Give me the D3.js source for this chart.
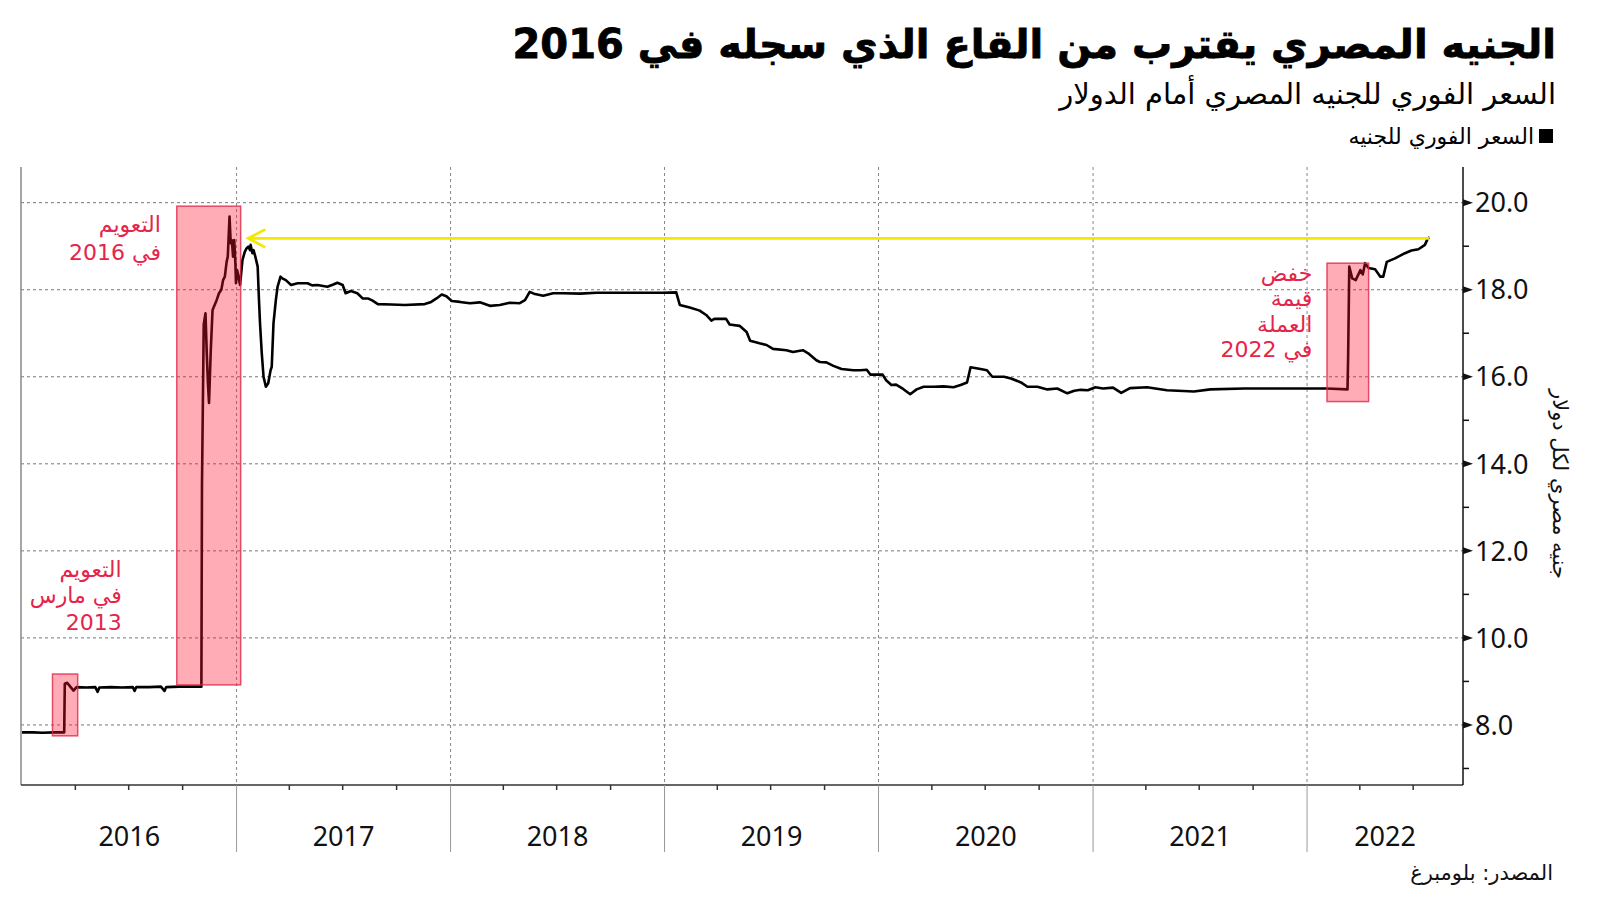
<!DOCTYPE html>
<html>
<head>
<meta charset="utf-8">
<script src="https://cdn.jsdelivr.net/npm/d3@7"></script>
<style>
  body { margin: 0; background: #fff; }
  svg { display: block; }
  .ar { font-family: "DejaVu Sans", sans-serif; direction: rtl; }
  .num { font-family: "Noto Sans", sans-serif; }
</style>
</head>
<body>
<div id="chart"></div>
<script>
// السعر الفوري للجنيه امام الدولار (قراءة من الصورة)
const dates = [
  "2016-01-01","2016-01-20","2016-02-05","2016-02-25","2016-03-13","2016-03-14","2016-03-18","2016-03-24",
  "2016-03-29","2016-04-03","2016-04-20","2016-05-05","2016-05-09","2016-05-12","2016-06-01","2016-06-20",
  "2016-07-08","2016-07-11","2016-07-14","2016-08-05","2016-08-25","2016-08-31","2016-09-03","2016-09-25",
  "2016-10-15","2016-11-02","2016-11-03","2016-11-06","2016-11-09","2016-11-11","2016-11-13","2016-11-15",
  "2016-11-18","2016-11-21","2016-11-23","2016-11-28","2016-12-02","2016-12-06","2016-12-09","2016-12-12",
  "2016-12-15","2016-12-17","2016-12-20","2016-12-22","2016-12-24","2016-12-26","2016-12-28","2016-12-30",
  "2016-12-31","2017-01-02","2017-01-07","2017-01-11","2017-01-15","2017-01-18","2017-01-21","2017-01-24",
  "2017-01-25","2017-01-28","2017-01-30","2017-02-02","2017-02-06","2017-02-08","2017-02-10","2017-02-13",
  "2017-02-16","2017-02-20","2017-02-24","2017-02-28","2017-03-02","2017-03-05","2017-03-09","2017-03-12",
  "2017-03-17","2017-03-20","2017-03-26","2017-04-04","2017-04-15","2017-05-02","2017-05-10","2017-05-19",
  "2017-06-05","2017-06-15","2017-06-22","2017-07-01","2017-07-06","2017-07-15","2017-07-26","2017-08-04",
  "2017-08-13","2017-08-21","2017-08-30","2017-09-22","2017-10-15","2017-11-18","2017-11-29","2017-12-08",
  "2017-12-17","2017-12-25","2018-01-03","2018-01-17","2018-02-03","2018-02-20","2018-03-09","2018-03-26",
  "2018-04-12","2018-04-29","2018-05-08","2018-05-16","2018-05-25","2018-06-08","2018-06-25","2018-07-12",
  "2018-08-10","2018-09-07","2018-10-06","2018-11-03","2018-12-01","2018-12-30","2019-01-21","2019-01-27",
  "2019-02-13","2019-03-02","2019-03-13","2019-03-22","2019-03-27","2019-04-16","2019-04-22","2019-05-09",
  "2019-05-21","2019-05-27","2019-06-12","2019-06-24","2019-07-05","2019-07-28","2019-08-08","2019-08-25",
  "2019-09-03","2019-09-17","2019-09-23","2019-10-04","2019-10-16","2019-10-30","2019-11-19","2019-12-01",
  "2019-12-12","2019-12-18","2020-01-08","2020-01-14","2020-01-23","2020-01-31","2020-02-12","2020-02-24",
  "2020-03-06","2020-03-18","2020-04-04","2020-04-21","2020-05-08","2020-05-20","2020-05-31","2020-06-06",
  "2020-06-23","2020-07-04","2020-07-13","2020-08-02","2020-08-14","2020-08-31","2020-09-11","2020-09-28",
  "2020-10-15","2020-11-01","2020-11-18","2020-11-30","2020-12-11","2020-12-23","2021-01-05","2021-01-18",
  "2021-02-04","2021-02-18","2021-03-05","2021-04-03","2021-05-07","2021-06-22","2021-07-20","2021-09-16",
  "2021-11-12","2022-01-05","2022-02-03","2022-03-11","2022-03-12","2022-03-14","2022-03-19","2022-03-25",
  "2022-04-02","2022-04-06","2022-04-10","2022-04-16","2022-04-27","2022-05-06","2022-05-11","2022-05-17",
  "2022-05-31","2022-06-17","2022-06-28","2022-07-10","2022-07-21","2022-07-26","2022-07-29"
];
const rates = [
  7.83,7.83,7.82,7.83,7.83,8.95,8.97,8.87,
  8.79,8.87,8.86,8.87,8.76,8.86,8.87,8.86,
  8.87,8.78,8.87,8.87,8.88,8.78,8.87,8.88,
  8.88,8.88,13.5,17.2,17.46,16.6,15.9,15.4,
  16.6,17.53,17.6,17.76,17.92,18.0,18.22,18.3,
  18.64,18.76,19.68,19.07,19.14,18.76,19.14,18.6,
  18.15,18.45,18.11,18.68,18.87,18.95,18.99,18.91,
  19.03,18.84,18.91,18.76,18.53,17.84,17.23,16.54,
  16.0,15.77,15.85,16.15,16.23,17.23,17.76,18.07,
  18.3,18.26,18.22,18.11,18.15,18.15,18.1,18.11,
  18.07,18.12,18.16,18.11,17.92,17.97,17.92,17.8,
  17.8,17.75,17.67,17.66,17.65,17.67,17.72,17.8,
  17.89,17.85,17.74,17.72,17.69,17.71,17.63,17.65,
  17.7,17.69,17.76,17.95,17.9,17.86,17.92,17.92,
  17.91,17.93,17.93,17.93,17.93,17.93,17.94,17.65,
  17.59,17.52,17.42,17.29,17.33,17.33,17.2,17.17,
  17.03,16.83,16.77,16.73,16.64,16.61,16.57,16.61,
  16.54,16.38,16.34,16.33,16.25,16.18,16.15,16.15,
  16.16,16.05,16.05,15.92,15.81,15.82,15.72,15.6,
  15.71,15.77,15.77,15.78,15.76,15.81,15.87,16.22,
  16.18,16.15,16.0,16.0,15.96,15.87,15.77,15.77,
  15.71,15.73,15.62,15.68,15.7,15.69,15.76,15.73,
  15.75,15.63,15.74,15.76,15.69,15.66,15.71,15.73,
  15.73,15.73,15.73,15.71,16.4,18.53,18.26,18.22,
  18.45,18.35,18.61,18.5,18.47,18.3,18.3,18.64,
  18.72,18.84,18.9,18.93,19.03,19.18,19.2
];

const yTicks = [8, 10, 12, 14, 16, 18, 20];
const yMinor = [7, 9, 11, 13, 15, 17, 19];
const years = ["2016", "2017", "2018", "2019", "2020", "2021", "2022"];

// مستطيلات التعويم / خفض القيمة
const boxStart = ["2016-02-22", "2016-09-21", "2022-02-04"];
const boxEnd   = ["2016-04-05", "2017-01-08", "2022-04-16"];
const boxLow   = [7.75, 8.92, 15.43];
const boxHigh  = [9.17, 19.92, 18.61];

const noteLines  = [["التعويم", "في 2016"], ["التعويم", "في مارس", "2013"], ["خفض", "قيمة", "العملة", "في 2022"]];
const noteDates  = ["2016-08-25", "2016-06-19", "2022-01-10"];
const noteValues = [19.51, 11.58, 18.38];

const arrowStart = "2017-01-21", arrowEnd = "2022-07-29", arrowValue = 19.18;

const W = 1600, H = 901;
const plot = {left: 21, right: 1463, top: 167, bottom: 785};
const noteGap = [28.5, 26.5, 25.5];
const parse = d3.timeParse("%Y-%m-%d");

const svg = d3.select("#chart").append("svg")
  .attr("width", W).attr("height", H);

const x = d3.scaleTime()
  .domain([parse("2016-01-01"), parse("2022-09-24")])
  .range([22, plot.right]);
const y = d3.scaleLinear()
  .domain([6.62, 20.82])
  .range([plot.bottom, plot.top]);

// العنوان
svg.append("text").attr("class", "ar")
  .attr("x", 1556).attr("y", 58)
  .attr("text-anchor", "start")
  .style("font-size", "40px").style("font-weight", "bold")
  .attr("stroke", "#000").attr("stroke-width", 0.8)
  .text("الجنيه المصري يقترب من القاع الذي سجله في 2016");

svg.append("text").attr("class", "ar")
  .attr("x", 1556).attr("y", 104)
  .attr("text-anchor", "start")
  .style("font-size", "29px")
  .text("السعر الفوري للجنيه المصري أمام الدولار");

svg.append("rect")
  .attr("x", 1539).attr("y", 129).attr("width", 14).attr("height", 14)
  .attr("fill", "#000");
svg.append("text").attr("class", "ar")
  .attr("x", 1534).attr("y", 144)
  .attr("text-anchor", "start")
  .style("font-size", "22px")
  .text("السعر الفوري للجنيه");

// خطوط الشبكة
svg.append("g").selectAll("line").data(yTicks).join("line")
  .attr("x1", plot.left).attr("x2", plot.right)
  .attr("y1", d => y(d)).attr("y2", d => y(d))
  .attr("stroke", "#777").attr("stroke-width", 1)
  .attr("stroke-dasharray", "3,3");

const yearStarts = years.slice(1).map(d => parse(d + "-01-01"));
svg.append("g").selectAll("line").data(yearStarts).join("line")
  .attr("x1", d => x(d)).attr("x2", d => x(d))
  .attr("y1", plot.top).attr("y2", plot.bottom)
  .attr("stroke", "#888").attr("stroke-width", 1)
  .attr("stroke-dasharray", "3,3");

// المحور الايسر
svg.append("line")
  .attr("x1", plot.left).attr("x2", plot.left)
  .attr("y1", plot.top).attr("y2", plot.bottom)
  .attr("stroke", "#888").attr("stroke-width", 1.5);

// المحور السفلي
const xAxis = svg.append("g").attr("transform", `translate(0,${plot.bottom})`);
xAxis.append("line")
  .attr("x1", plot.left).attr("x2", plot.right)
  .attr("stroke", "#333").attr("stroke-width", 1.5);
const quarters = d3.timeMonth.every(3).range(parse("2016-04-01"), parse("2022-09-01"))
  .filter(d => d.getMonth() !== 0);
xAxis.selectAll(".q").data(quarters).join("line")
  .attr("x1", d => x(d)).attr("x2", d => x(d))
  .attr("y1", 0).attr("y2", 5)
  .attr("stroke", "#333").attr("stroke-width", 1.5);
xAxis.selectAll(".yr").data(yearStarts).join("line")
  .attr("x1", d => x(d)).attr("x2", d => x(d))
  .attr("y1", 0).attr("y2", 67)
  .attr("stroke", "#999").attr("stroke-width", 1);

const yearMid = years.map(d => {
  const a = Math.max(x(parse(d + "-01-01")), plot.left);
  const b = Math.min(x(parse((+d + 1) + "-01-01")), plot.right);
  return (a + b) / 2;
});
xAxis.selectAll(".lbl").data(years).join("text")
  .attr("class", "num")
  .attr("x", (d, i) => yearMid[i]).attr("y", 61)
  .attr("text-anchor", "middle")
  .style("font-size", "27px").attr("fill", "#111")
  .text(d => d);

// المحور الايمن
const yAxis = svg.append("g").attr("transform", `translate(${plot.right},0)`);
yAxis.append("line")
  .attr("y1", plot.top).attr("y2", plot.bottom)
  .attr("stroke", "#111").attr("stroke-width", 1.5);
yAxis.selectAll(".tri").data(yTicks).join("path")
  .attr("d", d => `M0,${y(d) - 3.5}L10,${y(d)}L0,${y(d) + 3.5}Z`)
  .attr("fill", "#111");
yAxis.selectAll(".mn").data(yMinor).join("line")
  .attr("x1", 0).attr("x2", 6)
  .attr("y1", d => y(d)).attr("y2", d => y(d))
  .attr("stroke", "#111").attr("stroke-width", 1.5);
yAxis.selectAll(".tl").data(yTicks).join("text")
  .attr("class", "num")
  .attr("x", 12).attr("y", d => y(d))
  .attr("dy", "0.36em")
  .style("font-size", "27px").attr("fill", "#111")
  .text(d => d.toFixed(1));

svg.append("text").attr("class", "ar")
  .attr("transform", "translate(1553,484) rotate(90)")
  .attr("text-anchor", "middle")
  .style("font-size", "21px").attr("fill", "#111")
  .text("جنيه مصري لكل دولار");

// السلسلة
const series = dates.map((d, i) => ({date: parse(d), value: rates[i]}));
svg.append("path")
  .datum(series)
  .attr("fill", "none")
  .attr("stroke", "#000")
  .attr("stroke-width", 2.6)
  .attr("stroke-linejoin", "round")
  .attr("d", d3.line().x(d => x(d.date)).y(d => y(d.value)));

// المستطيلات
svg.append("g").selectAll("rect").data(boxStart).join("rect")
  .attr("x", (d, i) => x(parse(d)))
  .attr("y", (d, i) => y(boxHigh[i]))
  .attr("width", (d, i) => x(parse(boxEnd[i])) - x(parse(d)))
  .attr("height", (d, i) => y(boxLow[i]) - y(boxHigh[i]))
  .attr("fill", "#ff1132").attr("fill-opacity", 0.35)
  .attr("stroke", "#e0284a").attr("stroke-opacity", 0.8).attr("stroke-width", 1.5);

// السهم الاصفر
const ay = y(arrowValue), ax0 = x(parse(arrowStart)), ax1 = x(parse(arrowEnd));
svg.append("line")
  .attr("x1", ax0).attr("x2", ax1).attr("y1", ay).attr("y2", ay)
  .attr("stroke", "#f5e800").attr("stroke-width", 2.8);
svg.append("path")
  .attr("d", `M${ax0 + 17},${ay - 9}L${ax0},${ay}L${ax0 + 17},${ay + 9}`)
  .attr("fill", "none").attr("stroke", "#f5e800").attr("stroke-width", 2.8);

// التعليقات
noteLines.forEach((lines, i) => {
  svg.append("g").selectAll("text").data(lines).join("text")
    .attr("class", "ar")
    .attr("x", x(parse(noteDates[i])))
    .attr("y", (d, j) => y(noteValues[i]) + j * noteGap[i])
    .attr("dy", "0.35em")
    .attr("text-anchor", "start")
    .style("font-size", "22px").attr("fill", "#e6244a")
    .text(d => d);
});

// المصدر
svg.append("text").attr("class", "ar")
  .attr("x", 1553).attr("y", 880)
  .attr("text-anchor", "start")
  .style("font-size", "21px").attr("fill", "#111")
  .text("المصدر: بلومبرغ");
</script>
</body>
</html>
